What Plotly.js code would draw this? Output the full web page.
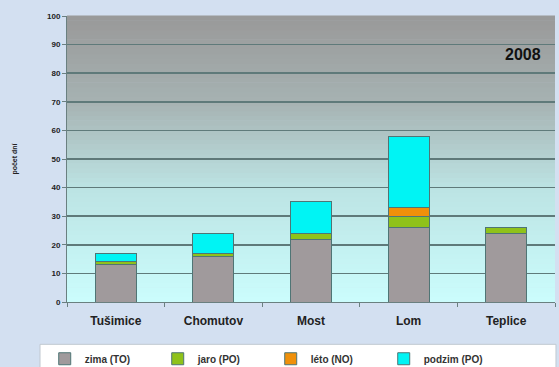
<!DOCTYPE html>
<html>
<head>
<meta charset="utf-8">
<script src="https://cdn.plot.ly/plotly-3.0.1.min.js"></script>
<style>html,body{margin:0;padding:0;background:#d3e0f1;}#chart{width:559px;height:367px;}</style>
</head>
<body>
<div id="chart"></div>
<script>
const categories = ["Tušimice", "Chomutov", "Most", "Lom", "Teplice"];
const zima = [13, 16, 22, 26, 24];
const jaro = [1, 1, 2, 4, 2];
const leto = [0, 0, 0, 3, 0];
const podzim = [3, 7, 11, 25, 0];
const seriesNames = ["zima (TO)", "jaro (PO)", "léto (NO)", "podzim (PO)"];
const yTicks = [0, 10, 20, 30, 40, 50, 60, 70, 80, 90, 100];

const colors = ["#a09a9c", "#8fc21a", "#f0900a", "#00f4f4"];
const seriesData = [zima, jaro, leto, podzim];
const traces = seriesData.map((vals, i) => ({
  type: "bar",
  name: seriesNames[i],
  x: categories,
  y: vals,
  marker: {color: colors[i], line: {color: "#4f7575", width: 1}},
  hoverinfo: "skip"
}));

// vertical gradient background for the plot area (decoration)
function lerp(a, b, t) { return Math.round(a + (b - a) * t); }
function hex(c) { return [parseInt(c.slice(1,3),16), parseInt(c.slice(3,5),16), parseInt(c.slice(5,7),16)]; }
const stops = [[0, "#cbfdfd"], [0.4, "#bce3e3"], [0.7, "#a6b2b2"], [1.0, "#999999"]];
function colorAt(f) {
  for (let k = 0; k < stops.length - 1; k++) {
    if (f <= stops[k+1][0]) {
      const t = (f - stops[k][0]) / (stops[k+1][0] - stops[k][0]);
      const a = hex(stops[k][1]), b = hex(stops[k+1][1]);
      return `rgb(${lerp(a[0],b[0],t)},${lerp(a[1],b[1],t)},${lerp(a[2],b[2],t)})`;
    }
  }
  return stops[stops.length-1][1];
}
const shapes = [];
const N = 60;
for (let k = 0; k < N; k++) {
  shapes.push({type: "rect", xref: "paper", yref: "paper", x0: 0, x1: 1,
    y0: k / N, y1: (k + 1) / N + 0.002, fillcolor: colorAt((k + 0.5) / N),
    line: {width: 0}, layer: "below"});
}
// legend box background
shapes.push({type: "rect", xref: "paper", yref: "paper", x0: -0.0553, x1: 1.002,
  y0: -0.23, y1: -0.148, fillcolor: "#ffffff", line: {color: "#c0c8d0", width: 1}, layer: "below"});

const layout = {
  width: 559, height: 367,
  margin: {l: 67, r: 4, t: 16, b: 65},
  paper_bgcolor: "#d3e0f1",
  plot_bgcolor: "rgba(0,0,0,0)",
  barmode: "stack",
  bargap: 0.58,
  showlegend: true,
  font: {family: "Arial, 'Liberation Sans', sans-serif", color: "#222"},
  xaxis: {
    tickfont: {size: 12, weight: "bold", color: "#222"},
    ticks: "outside", tickson: "boundaries", ticklen: 4, tickcolor: "#6a8080",
    ticklabelstandoff: 8,
    showline: true, linecolor: "#6a8080", linewidth: 1,
    showgrid: false, fixedrange: true
  },
  yaxis: {
    range: [0, 100], tickvals: yTicks, ticktext: yTicks.map(String),
    tickfont: {size: 8, weight: "bold", color: "#222"},
    ticks: "outside", ticklen: 4, tickcolor: "#6a8080",
    showline: true, linecolor: "#6a8080", linewidth: 1,
    gridcolor: "#5f7a7a", gridwidth: 1.5,
    zeroline: false,
    title: {text: "počet dní", font: {size: 7, weight: "bold", color: "#222"}, standoff: 28},
    fixedrange: true
  },
  legend: {
    orientation: "h", xref: "container", yref: "container",
    x: 0.08, xanchor: "left", y: 0.062, yanchor: "top",
    bgcolor: "rgba(0,0,0,0)", borderwidth: 0,
    font: {size: 10, weight: "bold", color: "#333"},
    entrywidth: 68, entrywidthmode: "pixels", traceorder: "normal",
    itemwidth: 30
  },
  annotations: [{
    text: "<b>2008</b>", xref: "paper", yref: "y", x: 0.975, y: 86.5,
    xanchor: "right", yanchor: "middle", showarrow: false,
    font: {size: 16, color: "#111"}
  }],
  shapes: shapes
};

Plotly.newPlot("chart", traces, layout, {displayModeBar: false, staticPlot: true});
</script>
</body>
</html>
